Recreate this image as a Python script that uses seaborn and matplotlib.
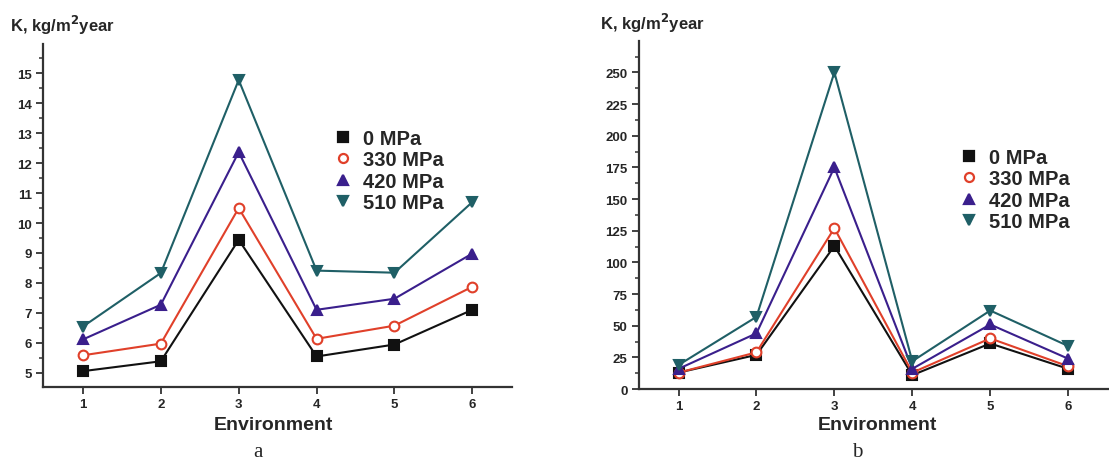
import matplotlib
matplotlib.use("Agg")
import matplotlib.pyplot as plt
from matplotlib.lines import Line2D
from matplotlib.ticker import MultipleLocator
import seaborn as sns
import pandas as pd

environment = [1, 2, 3, 4, 5, 6]
series_names = ["0 MPa", "330 MPa", "420 MPa", "510 MPa"]

a_0 = [5.05, 5.38, 9.44, 5.54, 5.94, 7.1]
a_330 = [5.58, 5.97, 10.5, 6.13, 6.57, 7.87]
a_420 = [6.11, 7.27, 12.37, 7.1, 7.47, 8.98]
a_510 = [6.54, 8.33, 14.78, 8.41, 8.34, 10.7]

b_0 = [13, 27, 113, 11, 36, 16]
b_330 = [13, 29, 127, 13, 40, 18]
b_420 = [16, 44, 175, 16, 51, 24]
b_510 = [19, 57, 250, 22, 62, 34]

colors = ["#111111", "#e0402a", "#3a1f8c", "#1f5f66"]
markers = ["s", "o", "^", "v"]
faces = ["#111111", "white", "#3a1f8c", "#1f5f66"]

sns.set_theme(style="white")
plt.rcParams["font.family"] = ["Liberation Sans", "DejaVu Sans"]
plt.rcParams["font.weight"] = "bold"

fig = plt.figure(figsize=(11.09, 4.6), dpi=100)
ax_a = fig.add_axes([0.039, 0.1565, 0.4227, 0.7455])
ax_b = fig.add_axes([0.576, 0.152, 0.423, 0.757])


def draw(ax, data_lists, ylim, major, minor, legend_pos):
    rows = []
    for name, vals in zip(series_names, data_lists):
        for e, v in zip(environment, vals):
            rows.append({"Environment": e, "K": v, "Series": name})
    df = pd.DataFrame(rows)
    for i, name in enumerate(series_names):
        sub = df[df["Series"] == name]
        sns.lineplot(data=sub, x="Environment", y="K", ax=ax, color=colors[i],
                     marker=markers[i], markersize=7, markerfacecolor=faces[i],
                     markeredgecolor=colors[i], markeredgewidth=1.5,
                     linewidth=1.5, legend=False)
    ax.set_xlim(0.49, 6.51)
    ax.set_ylim(*ylim)
    ax.set_xticks(environment)
    ax.yaxis.set_major_locator(MultipleLocator(major))
    ax.yaxis.set_minor_locator(MultipleLocator(minor))
    ax.set_xlabel("")
    ax.set_ylabel("")
    for s in ["top", "right"]:
        ax.spines[s].set_visible(False)
    for s in ["left", "bottom"]:
        ax.spines[s].set_color("#333333")
        ax.spines[s].set_linewidth(1.6)
    ax.tick_params(axis="both", which="major", direction="out", length=5,
                   width=1.3, color="#333333", labelsize=9.5, pad=3, left=True, bottom=True)
    ax.tick_params(axis="y", which="minor", direction="out", length=3,
                   width=1.1, color="#333333", left=True)
    for lab in ax.get_xticklabels() + ax.get_yticklabels():
        lab.set_fontweight("bold")
    handles = [Line2D([], [], linestyle="none", marker=markers[i], markersize=6.5,
                      markerfacecolor=faces[i], markeredgecolor=colors[i],
                      markeredgewidth=1.6) for i in range(4)]
    ax.legend(handles, series_names, loc="upper left", bbox_to_anchor=legend_pos,
              bbox_transform=fig.transFigure, frameon=False,
              prop={"size": 14.5, "weight": "bold"}, handletextpad=0.5,
              labelspacing=0.12, handlelength=1.0, borderaxespad=0)


draw(ax_a, [a_0, a_330, a_420, a_510], (4.52, 15.98), 1, 0.5, (0.293, 0.735))
draw(ax_b, [b_0, b_330, b_420, b_510], (0, 274.9), 25, 12.5, (0.857, 0.694))

fig.text(0.009, 0.944, "K, kg/m$^\\mathbf{2}$year", fontsize=12, fontweight="bold",
         ha="left", va="center")
fig.text(0.541, 0.948, "K, kg/m$^\\mathbf{2}$year", fontsize=12, fontweight="bold",
         ha="left", va="center")
fig.text(0.247, 0.074, "Environment", fontsize=14, fontweight="bold", ha="center", va="center")
fig.text(0.791, 0.074, "Environment", fontsize=14, fontweight="bold", ha="center", va="center")
fig.text(0.233, 0.016, "a", fontsize=15, family="Liberation Serif", fontweight="normal",
         ha="center", va="center")
fig.text(0.773, 0.016, "b", fontsize=15, family="Liberation Serif", fontweight="normal",
         ha="center", va="center")

fig.savefig("out.png", dpi=100, facecolor="white")
